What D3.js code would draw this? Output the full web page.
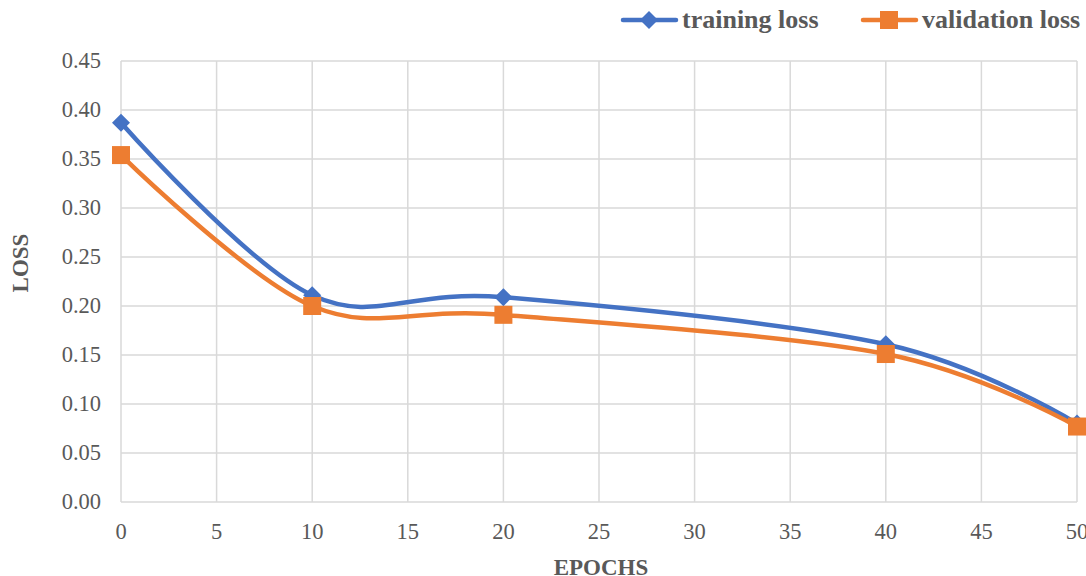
<!DOCTYPE html>
<html><head><meta charset="utf-8">
<script src="https://cdn.jsdelivr.net/npm/d3@7"></script>
<style>body{margin:0;background:#fff}svg{display:block}</style>
</head><body>
<svg id="c" width="1086" height="576"></svg>
<script>
const epochs = [0, 10, 20, 40, 50];
const trainingLoss = [0.387, 0.211, 0.209, 0.161, 0.080];
const validationLoss = [0.354, 0.200, 0.191, 0.151, 0.077];
const xTicks = [0,5,10,15,20,25,30,35,40,45,50];
const yTicks = [0,0.05,0.10,0.15,0.20,0.25,0.30,0.35,0.40,0.45];
const seriesNames = ["training loss", "validation loss"];
const colors = ["#4472C4", "#ED7D31"];

const svg = d3.select("#c");
const x = d3.scaleLinear().domain([0,50]).range([121,1077]);
const y = d3.scaleLinear().domain([0,0.45]).range([502,61]);
const font = "'Liberation Serif','Times New Roman',serif";

// grid
svg.append("g").selectAll("line").data(yTicks).join("line")
  .attr("x1", x(0)).attr("x2", x(50)).attr("y1", d=>y(d)).attr("y2", d=>y(d))
  .attr("stroke", "#d9d9d9").attr("stroke-width", 1.5);
svg.append("g").selectAll("line").data(xTicks).join("line")
  .attr("y1", y(0)).attr("y2", y(0.45)).attr("x1", d=>x(d)).attr("x2", d=>x(d))
  .attr("stroke", "#d9d9d9").attr("stroke-width", 1.5);

// tick labels
svg.append("g").selectAll("text").data(yTicks).join("text")
  .attr("x", 101).attr("y", d=>y(d)).attr("dy", "0.33em").attr("text-anchor","end")
  .attr("font-family", font).attr("font-size", 22.5).attr("fill", "#595959")
  .text(d=>d3.format(".2f")(d));
svg.append("g").selectAll("text").data(xTicks).join("text")
  .attr("x", d=>x(d)).attr("y", 539).attr("text-anchor","middle")
  .attr("font-family", font).attr("font-size", 22.5).attr("fill", "#595959")
  .text(d=>d);

// axis titles
svg.append("text").attr("x", 601).attr("y", 575).attr("text-anchor","middle")
  .attr("font-family", font).attr("font-size", 23).attr("font-weight","bold").attr("fill","#595959")
  .text("EPOCHS");
svg.append("text").attr("transform","translate(28,263) rotate(-90)").attr("text-anchor","middle")
  .attr("font-family", font).attr("font-size", 23).attr("font-weight","bold").attr("fill","#595959")
  .text("LOSS");

const line = d3.line().x(d=>x(d[0])).y(d=>y(d[1])).curve(d3.curveCatmullRom.alpha(0));
const series = [trainingLoss, validationLoss];
series.forEach((vals, i) => {
  const pts = epochs.map((e, j) => [e, vals[j]]);
  svg.append("path").attr("d", line(pts)).attr("fill","none")
    .attr("stroke", colors[i]).attr("stroke-width", 4.5).attr("stroke-linecap","round");
});
// markers
const diamond = (g, cx, cy, r) => g.append("path")
  .attr("d", `M${cx},${cy-r}L${cx+r},${cy}L${cx},${cy+r}L${cx-r},${cy}Z`).attr("fill", colors[0]);
const square = (g, cx, cy, s) => g.append("rect")
  .attr("x", cx-s/2).attr("y", cy-s/2).attr("width", s).attr("height", s).attr("fill", colors[1]);
epochs.forEach((e, j) => diamond(svg, x(e), y(trainingLoss[j]), 9));
epochs.forEach((e, j) => square(svg, x(e), y(validationLoss[j]), 18));

// legend
const lg = svg.append("g");
lg.append("line").attr("x1",623).attr("x2",676).attr("y1",20).attr("y2",20)
  .attr("stroke",colors[0]).attr("stroke-width",4.5).attr("stroke-linecap","round");
diamond(lg, 649, 20, 9);
lg.append("text").attr("x",682).attr("y",28).attr("font-family",font).attr("font-size",26)
  .attr("font-weight","bold").attr("fill","#595959").text(seriesNames[0]);
lg.append("line").attr("x1",863).attr("x2",916).attr("y1",20).attr("y2",20)
  .attr("stroke",colors[1]).attr("stroke-width",4.5).attr("stroke-linecap","round");
square(lg, 889, 20, 18);
lg.append("text").attr("x",922).attr("y",28).attr("font-family",font).attr("font-size",26)
  .attr("font-weight","bold").attr("fill","#595959").text(seriesNames[1]);
</script>
</body></html>
